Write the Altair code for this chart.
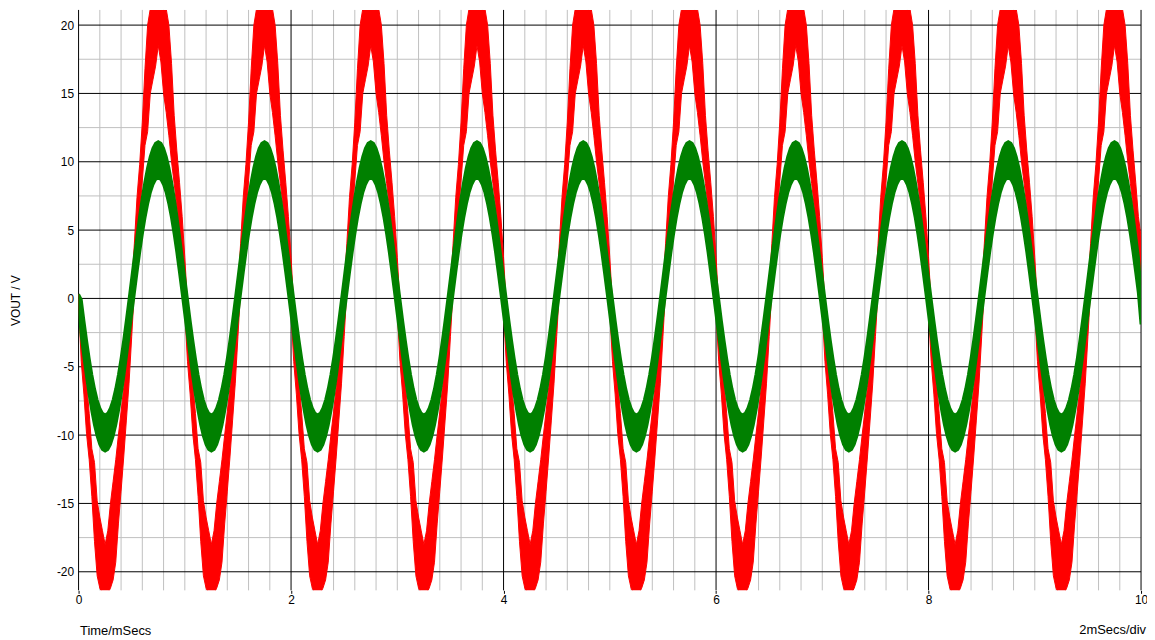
import altair as alt
import pandas as pd

# ---- one measured cycle of the two traces (phase within each 1 ms period) ----
PHASE = [0.000, 0.025, 0.050, 0.075, 0.100, 0.125, 0.150, 0.175, 0.200, 0.225,
         0.250, 0.275, 0.300, 0.325, 0.350, 0.375, 0.400, 0.425, 0.450, 0.475,
         0.500, 0.525, 0.550, 0.575, 0.600, 0.625, 0.650, 0.675, 0.700, 0.725,
         0.750, 0.775, 0.800, 0.825, 0.850, 0.875, 0.900, 0.925, 0.950, 0.975]

RED_HI = [3.0, -0.4, -3.3, -6.1, -8.4, -11.0, -12.0, -14.8, -16.0, -17.0,
          -18.0, -17.0, -15.0, -13.4, -11.8, -10.0, -8.3, -6.5, -4.6, -2.0,
          0.8, 4.0, 7.4, 9.8, 12.9, 16.8, 20.0, 21.2, 21.4, 21.6,
          21.7, 21.6, 21.4, 21.2, 20.0, 17.2, 13.4, 10.8, 8.5, 6.0]
RED_LO = [-1.0, -4.6, -7.0, -9.9, -11.8, -14.5, -17.8, -20.3, -21.2, -21.6,
          -21.7, -21.6, -21.2, -20.6, -19.3, -16.5, -14.1, -11.6, -8.9, -6.2,
          -2.8, 0.6, 3.3, 6.1, 8.6, 11.2, 12.2, 15.0, 16.0, 17.0,
          18.5, 17.3, 15.0, 13.6, 11.9, 10.0, 8.4, 6.7, 4.8, 2.0]

GREEN_HI = [1.47, -0.09, -1.62, -3.07, -4.41, -5.60, -6.62, -7.44, -8.04, -8.41,
            -8.53, -8.41, -8.04, -7.44, -6.62, -5.60, -4.41, -3.07, -1.62, -0.09,
            1.47, 3.03, 4.56, 6.01, 7.35, 8.54, 9.56, 10.38, 10.98, 11.35,
            11.47, 11.35, 10.98, 10.38, 9.56, 8.54, 7.35, 6.01, 4.56, 3.03]
GREEN_LO = [-1.17, -2.73, -4.26, -5.71, -7.05, -8.24, -9.26, -10.08, -10.68, -11.05,
            -11.17, -11.05, -10.68, -10.08, -9.26, -8.24, -7.05, -5.71, -4.26, -2.73,
            -1.17, 0.39, 1.92, 3.37, 4.71, 5.90, 6.92, 7.74, 8.34, 8.71,
            8.83, 8.71, 8.34, 7.74, 6.92, 5.90, 4.71, 3.37, 1.92, 0.39]

CYCLE_START = [0, 1, 2, 3, 4, 5, 6, 7, 8, 9]

# first and last samples (t = 0 ms and t = 10 ms): red hi/lo, green hi/lo
START_VALUES = [0.3, -0.3, 0.3, -0.3]
END_T = 10.0
END_VALUES = [4.5, 1.0, 0.5, -1.9]

# ---- grid and tick values ----
X_MAJOR = [0, 2, 4, 6, 8, 10]
X_MINOR = [0.2, 0.4, 0.6, 0.8, 1.0, 1.2, 1.4, 1.6, 1.8,
           2.2, 2.4, 2.6, 2.8, 3.0, 3.2, 3.4, 3.6, 3.8,
           4.2, 4.4, 4.6, 4.8, 5.0, 5.2, 5.4, 5.6, 5.8,
           6.2, 6.4, 6.6, 6.8, 7.0, 7.2, 7.4, 7.6, 7.8,
           8.2, 8.4, 8.6, 8.8, 9.0, 9.2, 9.4, 9.6, 9.8]
Y_MAJOR = [-20, -15, -10, -5, 0, 5, 10, 15, 20]
Y_MINOR = [-17.5, -12.5, -7.5, -2.5, 2.5, 7.5, 12.5, 17.5]

X_DOMAIN = [0, 10]
Y_DOMAIN = [-21.36, 21.11]

rows = []
for c in CYCLE_START:
    for p, rh, rl, gh, gl in zip(PHASE, RED_HI, RED_LO, GREEN_HI, GREEN_LO):
        t = c + p
        if t == 0:
            rh, rl, gh, gl = START_VALUES
        rows.append({"t": t, "rh": rh, "rl": rl, "gh": gh, "gl": gl})
rows.append({"t": END_T, "rh": END_VALUES[0], "rl": END_VALUES[1],
             "gh": END_VALUES[2], "gl": END_VALUES[3]})
traces = pd.DataFrame(rows)

FONT = "Liberation Sans"

X_SC = alt.Scale(domain=X_DOMAIN, nice=False, zero=False)
Y_SC = alt.Scale(domain=Y_DOMAIN, nice=False, zero=False)

X_AX = alt.Axis(values=X_MAJOR, labelExpr="toString(datum.value)",
                labelFont=FONT, labelFontSize=12,
                labelColor="black", tickColor="black", tickSize=3, ticks=True,
                domain=False, grid=False, labelPadding=1, labelFlush=False,
                labelOverlap=False,
                title="Time/mSecs", titleFont=FONT, titleFontSize=13,
                titleFontWeight="normal", titleColor="black",
                titleAnchor="start", titleAlign="left", titleBaseline="middle",
                titleX=1, titleY=40)
Y_AX = alt.Axis(values=Y_MAJOR, labelExpr="toString(datum.value)",
                labelFont=FONT, labelFontSize=12,
                labelColor="black", ticks=False, domain=False, grid=False,
                labelPadding=5, labelOverlap=False,
                title="VOUT / V", titleFont=FONT, titleFontSize=12,
                titleFontWeight="normal", titleColor="black",
                titleAngle=270, titleAlign="center", titleBaseline="middle",
                titleX=-63, titleY=292)

minor_x = alt.Chart(pd.DataFrame({"t": X_MINOR})).mark_rule(
    color="#c0c0c0", strokeWidth=1).encode(x=alt.X("t:Q", scale=X_SC, axis=X_AX))
minor_y = alt.Chart(pd.DataFrame({"v": Y_MINOR})).mark_rule(
    color="#c0c0c0", strokeWidth=1).encode(y=alt.Y("v:Q", scale=Y_SC, axis=Y_AX))
major_x = alt.Chart(pd.DataFrame({"t": X_MAJOR})).mark_rule(
    color="black", strokeWidth=1).encode(x=alt.X("t:Q", scale=X_SC, axis=X_AX))
major_y = alt.Chart(pd.DataFrame({"v": Y_MAJOR})).mark_rule(
    color="black", strokeWidth=1).encode(y=alt.Y("v:Q", scale=Y_SC, axis=Y_AX))

red = alt.Chart(traces).mark_area(
    color="#ff0000", stroke="#ff0000", strokeWidth=1, clip=True, opacity=1
).encode(
    x=alt.X("t:Q", scale=X_SC, axis=X_AX),
    y=alt.Y("rh:Q", scale=Y_SC, axis=Y_AX),
    y2="rl:Q",
)
green = alt.Chart(traces).mark_area(
    color="#008000", stroke="#008000", strokeWidth=3, clip=True, opacity=1
).encode(
    x=alt.X("t:Q", scale=X_SC, axis=X_AX),
    y=alt.Y("gh:Q", scale=Y_SC, axis=Y_AX),
    y2="gl:Q",
)

div_label = alt.Chart(pd.DataFrame({"t": [10], "label": ["2mSecs/div"]})).mark_text(
    align="right", baseline="middle", dx=5, font=FONT, fontSize=13, color="black"
).encode(
    x=alt.X("t:Q", scale=X_SC, axis=X_AX),
    y=alt.value(624),
    text="label:N",
)

chart = alt.layer(minor_x, minor_y, major_x, major_y, red, green, div_label).properties(
    width=1069,
    height=584,
    autosize=alt.AutoSizeParams(type="none"),
    padding={"left": 71, "top": 0, "right": 6, "bottom": 46},
    background="white",
).configure_view(stroke=None)

chart.save("out.html", embed_options={"renderer": "svg", "actions": False})
